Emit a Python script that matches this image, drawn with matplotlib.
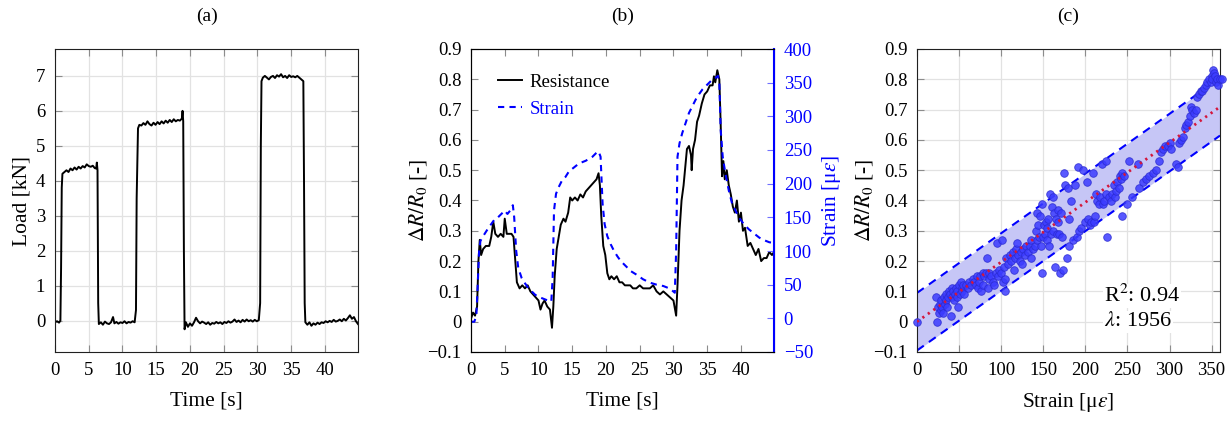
import numpy as np
import matplotlib
matplotlib.use("Agg")
import matplotlib.pyplot as plt
from matplotlib.ticker import FuncFormatter, MultipleLocator

plt.rcParams['font.family'] = ['Liberation Serif', 'DejaVu Serif']
plt.rcParams['mathtext.fontset'] = 'stix'
plt.rcParams['font.size'] = 13.5

# (a) load vs time
load_t = [0.0, 0.3, 0.6, 0.8, 0.9, 1.0, 1.1, 1.4, 1.7, 2.0, 2.3, 2.6, 2.9, 3.2, 3.5, 3.8,
          4.1, 4.4, 4.7, 5.0, 5.3, 5.6, 5.9, 6.1, 6.2, 6.3, 6.4, 6.5, 6.8, 7.1, 7.4, 7.7,
          8.0, 8.3, 8.6, 8.8, 9.1, 9.4, 9.7, 10.0, 10.3, 10.6, 10.9, 11.2, 11.5, 11.8,
          12.0, 12.1, 12.3, 12.5, 12.8, 13.1, 13.4, 13.7, 14.0, 14.3, 14.6, 14.9, 15.2,
          15.5, 15.8, 16.1, 16.4, 16.7, 17.0, 17.3, 17.6, 17.9, 18.2, 18.5, 18.8, 18.9,
          19.0, 19.1, 19.2, 19.4, 19.7, 20.0, 20.3, 20.6, 20.9, 21.2, 21.5, 21.8, 22.1,
          22.4, 22.7, 23.0, 23.3, 23.6, 23.9, 24.2, 24.5, 24.8, 25.1, 25.4, 25.7, 26.0,
          26.3, 26.6, 26.9, 27.2, 27.5, 27.8, 28.1, 28.4, 28.7, 29.0, 29.3, 29.6, 29.9,
          30.2, 30.4, 30.5, 30.6, 30.8, 31.1, 31.4, 31.7, 32.0, 32.3, 32.6, 32.9, 33.2,
          33.5, 33.8, 34.1, 34.4, 34.7, 35.0, 35.3, 35.6, 35.9, 36.2, 36.5, 36.8, 36.9,
          37.0, 37.1, 37.4, 37.7, 38.0, 38.3, 38.6, 38.9, 39.2, 39.5, 39.8, 40.1, 40.4,
          40.7, 41.0, 41.3, 41.6, 41.9, 42.2, 42.5, 42.8, 43.1, 43.4, 43.7, 44.0, 44.3,
          44.6, 44.9]
load_kn = [-0.05, -0.02, -0.06, 0.0, 1.5, 3.8, 4.2, 4.25, 4.3, 4.25, 4.35, 4.3, 4.38, 4.32,
           4.4, 4.35, 4.42, 4.38, 4.47, 4.42, 4.4, 4.43, 4.36, 4.35, 4.52, 4.3, 0.5, -0.1,
           -0.05, -0.12, -0.03, -0.08, -0.1, -0.05, 0.1, -0.08, -0.04, -0.09, -0.05, -0.07,
           -0.02, -0.08, -0.04, -0.06, -0.02, -0.05, 0.3, 3.5, 5.5, 5.6, 5.58, 5.65, 5.6,
           5.7, 5.62, 5.58, 5.66, 5.6, 5.68, 5.62, 5.7, 5.64, 5.72, 5.66, 5.74, 5.68, 5.76,
           5.7, 5.74, 5.72, 5.78, 6.0, 5.7, 2.0, -0.25, -0.05, -0.18, -0.08, -0.15, -0.05,
           0.08, -0.02, -0.08, -0.03, -0.06, -0.1, -0.05, -0.12, -0.07, -0.09, -0.04, -0.08,
           -0.05, -0.1, -0.04, -0.07, -0.02, -0.06, -0.03, 0.03, -0.04, 0.0, -0.05, 0.02,
           -0.03, 0.03, -0.02, 0.01, -0.03, 0.02, -0.02, 0.01, 0.5, 5.0, 6.85, 6.95, 7.0,
           6.95, 6.9, 6.97, 7.0, 6.94, 7.02, 6.98, 7.05, 6.96, 7.0, 6.94, 7.02, 6.97, 6.99,
           6.96, 7.0, 6.95, 6.9, 6.85, 4.0, 0.5, -0.05, -0.12, -0.05, -0.15, -0.08, -0.12,
           -0.06, -0.1, -0.05, -0.07, -0.02, -0.05, -0.01, -0.04, 0.02, -0.03, -0.01, 0.03,
           -0.02, 0.05, 0.0, 0.07, 0.15, 0.05, 0.1, -0.02, -0.1]

# (b) resistance change and strain vs time
res_t = [0.0, 0.3, 0.6, 0.9, 1.1, 1.3, 1.5, 1.8, 2.2, 2.7, 3.0, 3.3, 3.6, 4.0, 4.4, 4.8,
         5.0, 5.3, 5.7, 6.0, 6.3, 6.5, 6.8, 7.2, 7.6, 8.0, 8.4, 8.8, 9.2, 9.6, 10.0, 10.3,
         10.6, 10.9, 11.3, 11.7, 12.0, 12.2, 12.4, 12.7, 13.0, 13.3, 13.7, 14.0, 14.4,
         14.7, 15.0, 15.4, 15.8, 16.2, 16.6, 17.0, 17.4, 17.8, 18.2, 18.6, 18.9, 19.1,
         19.3, 19.6, 19.9, 20.2, 20.5, 20.8, 21.2, 21.6, 22.0, 22.4, 22.8, 23.2, 23.6,
         24.0, 24.5, 25.0, 25.5, 26.0, 26.5, 27.0, 27.5, 28.0, 28.5, 29.0, 29.5, 30.0,
         30.4, 30.6, 30.9, 31.2, 31.5, 31.8, 32.0, 32.3, 32.6, 32.7, 32.9, 33.2, 33.5,
         33.8, 34.2, 34.6, 35.0, 35.4, 35.8, 36.0, 36.2, 36.5, 36.8, 37.0, 37.2, 37.4,
         37.6, 37.9, 38.2, 38.5, 38.8, 39.1, 39.4, 39.7, 40.0, 40.3, 40.6, 41.0, 41.4,
         41.8, 42.2, 42.6, 43.0, 43.4, 43.8, 44.2, 44.6, 44.9]
res_dr = [0.01, 0.03, 0.02, 0.05, 0.2, 0.27, 0.22, 0.24, 0.25, 0.25, 0.28, 0.33, 0.29,
          0.28, 0.29, 0.28, 0.34, 0.29, 0.29, 0.29, 0.28, 0.22, 0.13, 0.11, 0.12, 0.11,
          0.12, 0.1, 0.09, 0.08, 0.07, 0.04, 0.06, 0.07, 0.05, 0.04, -0.02, 0.05, 0.15,
          0.24, 0.28, 0.32, 0.34, 0.33, 0.36, 0.41, 0.4, 0.41, 0.4, 0.42, 0.41, 0.43, 0.44,
          0.45, 0.46, 0.47, 0.49, 0.45, 0.35, 0.25, 0.22, 0.16, 0.14, 0.15, 0.14, 0.15,
          0.13, 0.13, 0.12, 0.12, 0.12, 0.11, 0.11, 0.12, 0.11, 0.11, 0.11, 0.12, 0.1, 0.09,
          0.1, 0.09, 0.08, 0.07, 0.02, 0.12, 0.3, 0.4, 0.45, 0.52, 0.57, 0.58, 0.55, 0.5,
          0.57, 0.6, 0.66, 0.68, 0.72, 0.75, 0.76, 0.78, 0.78, 0.81, 0.79, 0.83, 0.8, 0.65,
          0.48, 0.53, 0.47, 0.5, 0.45, 0.42, 0.38, 0.36, 0.4, 0.33, 0.36, 0.3, 0.31, 0.25,
          0.26, 0.24, 0.22, 0.24, 0.2, 0.21, 0.21, 0.23, 0.22, 0.23]

str_t = [0.0, 0.5, 0.8, 1.0, 1.2, 1.4, 1.8, 2.5, 3.0, 3.5, 4.0, 4.5, 5.0, 5.4, 5.8, 6.2,
         6.4, 6.7, 7.0, 7.5, 8.0, 8.5, 9.0, 9.5, 10.0, 10.5, 11.0, 11.5, 11.9, 12.1, 12.3,
         12.6, 13.0, 13.5, 14.0, 14.5, 15.0, 15.5, 16.0, 16.5, 17.0, 17.5, 18.0, 18.5,
         18.9, 19.2, 19.5, 19.8, 20.2, 20.7, 21.2, 21.7, 22.2, 22.7, 23.2, 23.7, 24.5,
         25.5, 26.5, 27.5, 28.5, 29.5, 30.2, 30.4, 30.6, 30.9, 31.3, 31.8, 32.3, 32.8,
         33.3, 33.8, 34.3, 34.8, 35.3, 35.8, 36.2, 36.6, 36.8, 37.0, 37.3, 37.7, 38.2,
         38.7, 39.2, 39.7, 40.2, 40.7, 41.2, 41.7, 42.2, 42.7, 43.2, 43.7, 44.2, 44.9]
str_ue = [-5, -5, 5, 50, 100, 115, 122, 133, 140, 147, 150, 155, 160, 155, 160, 168, 150,
          100, 75, 60, 52, 45, 40, 35, 32, 30, 28, 26, 25, 60, 160, 185, 195, 205, 210,
          218, 222, 226, 230, 232, 234, 237, 240, 245, 248, 240, 170, 140, 122, 110, 100,
          92, 85, 80, 75, 70, 65, 58, 53, 50, 48, 44, 38, 100, 240, 260, 275, 290, 305,
          315, 325, 333, 340, 345, 350, 355, 357, 360, 350, 280, 240, 215, 190, 170, 160,
          150, 143, 137, 132, 128, 124, 120, 117, 115, 113, 112]

# (c) resistance change vs strain
sc_strain = [0, 22, 24, 25, 26, 27, 28, 29, 30, 31, 32, 33, 34, 35, 36, 37, 38, 39, 40, 41,
             42, 43, 44, 45, 46, 47, 48, 49, 50, 51, 52, 53, 54, 55, 56, 58, 60, 62, 64,
             66, 68, 70, 71, 72, 74, 75, 76, 78, 79, 80, 82, 83, 84, 85, 86, 88, 90, 92,
             94, 95, 96, 98, 100, 101, 102, 103, 104, 105, 106, 108, 110, 112, 114, 115,
             116, 118, 119, 120, 122, 124, 125, 126, 128, 130, 132, 134, 135, 136, 138,
             140, 141, 142, 143, 144, 145, 146, 147, 148, 149, 150, 151, 152, 153, 154,
             155, 156, 157, 158, 159, 160, 161, 162, 163, 164, 165, 166, 167, 168, 169,
             170, 171, 172, 173, 175, 176, 178, 179, 180, 181, 183, 185, 188, 190, 191,
             193, 195, 197, 200, 202, 203, 205, 207, 209, 210, 212, 213, 214, 216, 218,
             220, 221, 222, 224, 225, 226, 228, 230, 232, 234, 235, 236, 238, 240, 241,
             242, 243, 244, 246, 250, 252, 255, 262, 264, 268, 272, 276, 280, 284, 287,
             290, 292, 295, 298, 300, 302, 308, 310, 311, 314, 316, 318, 320, 322, 324,
             325, 327, 329, 331, 333, 335, 337, 339, 341, 343, 345, 347, 349, 350, 351,
             352, 353, 354, 355, 356, 358, 360, 362]
sc_dr = [0.0, 0.08, 0.0, 0.05, 0.03, 0.06, 0.04, 0.07, 0.05, 0.03, 0.08, 0.06, 0.09, 0.07,
         0.05, 0.08, 0.1, 0.09, 0.02, 0.08, 0.11, 0.1, 0.07, 0.09, 0.11, 0.08, 0.1, 0.05,
         0.12, 0.09, 0.13, 0.11, 0.1, 0.12, 0.09, 0.12, 0.11, 0.13, 0.12, 0.14, 0.13, 0.12,
         0.15, 0.11, 0.13, 0.15, 0.1, 0.16, 0.12, 0.15, 0.16, 0.21, 0.11, 0.16, 0.14, 0.15,
         0.13, 0.12, 0.16, 0.26, 0.15, 0.17, 0.16, 0.27, 0.13, 0.18, 0.1, 0.14, 0.21, 0.19,
         0.22, 0.2, 0.23, 0.17, 0.21, 0.24, 0.26, 0.22, 0.2, 0.23, 0.19, 0.24, 0.22, 0.25,
         0.23, 0.25, 0.21, 0.27, 0.24, 0.25, 0.3, 0.27, 0.36, 0.32, 0.28, 0.35, 0.25, 0.16,
         0.39, 0.28, 0.32, 0.29, 0.33, 0.27, 0.31, 0.34, 0.25, 0.42, 0.29, 0.38, 0.41, 0.3,
         0.36, 0.18, 0.34, 0.29, 0.33, 0.37, 0.29, 0.16, 0.36, 0.28, 0.17, 0.49, 0.45,
         0.21, 0.44, 0.25, 0.34, 0.4, 0.27, 0.45, 0.28, 0.51, 0.3, 0.31, 0.5, 0.33, 0.46,
         0.34, 0.32, 0.33, 0.49, 0.33, 0.35, 0.42, 0.4, 0.39, 0.41, 0.52, 0.39, 0.4, 0.42,
         0.53, 0.28, 0.41, 0.4, 0.42, 0.45, 0.41, 0.43, 0.46, 0.44, 0.48, 0.47, 0.35, 0.49,
         0.48, 0.39, 0.53, 0.41, 0.52, 0.44, 0.46, 0.47, 0.48, 0.49, 0.5, 0.53, 0.56, 0.57,
         0.58, 0.58, 0.59, 0.57, 0.52, 0.51, 0.59, 0.6, 0.61, 0.64, 0.65, 0.66, 0.68, 0.71,
         0.7, 0.69, 0.7, 0.74, 0.75, 0.76, 0.76, 0.77, 0.78, 0.79, 0.8, 0.79, 0.81, 0.8,
         0.83, 0.82, 0.81, 0.79, 0.8, 0.78, 0.8, 0.8]
fit_slope = 0.00197   # per micro-strain
band = 0.095
r2_text = "R$^2$: 0.94"
lam_text = "$\\lambda$: 1956"

titles = ["(a)", "(b)", "(c)"]

fig = plt.figure(figsize=(12.3, 4.21), dpi=100)
lefts = [55, 471, 917]
axs = [fig.add_axes([l / 1230, 69 / 421, 303 / 1230, 303 / 421]) for l in lefts]

TICK = 13.5
LAB = 15.5


def fmt(v, pos):
    s = "%g" % round(v, 6)
    return s.replace("-", "\u2212")


def style(ax, grid=True):
    ax.tick_params(direction="in", length=5, color="#8c8c8c", top=True, right=True,
                   labelsize=TICK)
    ax.tick_params(axis="x", pad=7)
    ax.tick_params(axis="y", pad=7)
    for sp in ax.spines.values():
        sp.set_linewidth(0.8)
        sp.set_color("#202020")
    if grid:
        ax.grid(True, color="#e2e2e2", lw=0.9)
        ax.set_axisbelow(True)


for ax, t in zip(axs, titles):
    pos = ax.get_position()
    fig.text(pos.x0 + pos.width / 2, 1 - 16 / 421, t, ha="center", va="center", fontsize=14)

# (a)
ax = axs[0]
style(ax)
ax.plot(load_t, load_kn, color="black", lw=1.4)
ax.set_xlim(0, 44.9)
ax.set_ylim(-0.9, 7.77)
ax.xaxis.set_major_locator(MultipleLocator(5))
ax.yaxis.set_major_locator(MultipleLocator(1))
ax.xaxis.set_major_formatter(FuncFormatter(fmt))
ax.yaxis.set_major_formatter(FuncFormatter(fmt))
ax.set_xlabel("Time [s]", fontsize=LAB, labelpad=9)
ax.set_ylabel("Load [kN]", fontsize=LAB, labelpad=3)

# (b)
ax = axs[1]
style(ax, grid=False)
ax.tick_params(right=False)
ax.plot(res_t, res_dr, color="black", lw=1.4, label="Resistance")
ax.set_xlim(0, 44.9)
ax.set_ylim(-0.1, 0.9)
ax.xaxis.set_major_locator(MultipleLocator(5))
ax.yaxis.set_major_locator(MultipleLocator(0.1))
ax.xaxis.set_major_formatter(FuncFormatter(fmt))
ax.yaxis.set_major_formatter(FuncFormatter(fmt))
ax.set_xlabel("Time [s]", fontsize=LAB, labelpad=9)
ax.set_ylabel("$\\Delta R/R_0$ [-]", fontsize=LAB, labelpad=-1)
ax2 = ax.twinx()
ax2.plot(str_t, str_ue, color="blue", lw=1.5, ls=(0, (3, 2.5)), label="Strain")
ax2.set_ylim(-50, 400)
ax2.yaxis.set_major_locator(MultipleLocator(50))
ax2.yaxis.set_major_formatter(FuncFormatter(fmt))
ax2.tick_params(direction="in", length=5, color="#7070ff", labelcolor="blue",
                labelsize=TICK, pad=7)
ax2.spines["right"].set_color("blue")
ax2.spines["right"].set_linewidth(1.5)
ax2.set_ylabel("Strain [μ$\\varepsilon$]", color="blue", fontsize=LAB, labelpad=5)
h1, l1 = ax.get_legend_handles_labels()
h2, l2 = ax2.get_legend_handles_labels()
leg = ax.legend(h1 + h2, l1 + l2, loc="upper left", frameon=False, fontsize=TICK,
                handlelength=1.25, handletextpad=0.4, labelspacing=0.55,
                bbox_to_anchor=(0.035, 0.975))
leg.get_texts()[1].set_color("blue")

# (c)
ax = axs[2]
style(ax)
xs = np.array([0, 360])
ax.fill_between(xs, fit_slope * xs - band, fit_slope * xs + band, color="#c6c6f6", lw=0)
ax.plot(xs, fit_slope * xs + band, color="blue", lw=1.5, ls=(0, (4, 3)))
ax.plot(xs, fit_slope * xs - band, color="blue", lw=1.5, ls=(0, (4, 3)))
ax.scatter(sc_strain, sc_dr, s=30, facecolor="#3c3cff", edgecolor="#2a2ad0", lw=0.6,
           alpha=0.85, zorder=3, clip_on=False)
ax.plot(xs, fit_slope * xs, color="#d4163c", lw=2, ls=(0, (0.8, 1.6)), zorder=4)
ax.set_xlim(0, 360)
ax.set_ylim(-0.1, 0.9)
ax.xaxis.set_major_locator(MultipleLocator(50))
ax.yaxis.set_major_locator(MultipleLocator(0.1))
ax.xaxis.set_major_formatter(FuncFormatter(fmt))
ax.yaxis.set_major_formatter(FuncFormatter(fmt))
ax.set_xlabel("Strain [μ$\\varepsilon$]", fontsize=LAB, labelpad=9)
ax.set_ylabel("$\\Delta R/R_0$ [-]", fontsize=LAB, labelpad=-1)
ax.text(222, 0.085, r2_text, fontsize=16, va="center",
        bbox=dict(facecolor="white", edgecolor="none", pad=1))
ax.text(222, 0.0, lam_text, fontsize=16, va="center",
        bbox=dict(facecolor="white", edgecolor="none", pad=1))

fig.savefig("out.png", dpi=100)
